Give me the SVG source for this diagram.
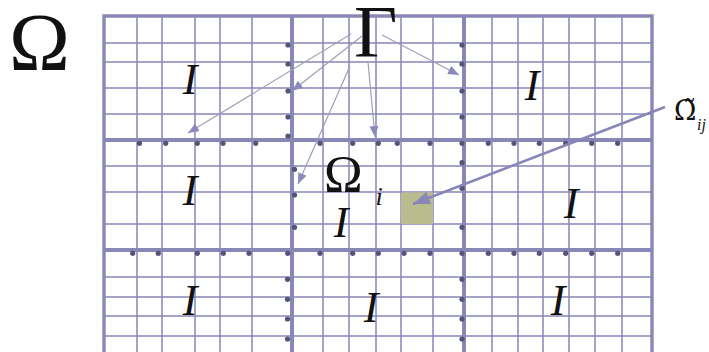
<svg xmlns="http://www.w3.org/2000/svg" width="709" height="352" viewBox="0 0 709 352">
<style>
.thin{stroke:#8886b6;stroke-width:1.5;fill:none}
.thick{stroke:#8987b6;stroke-width:4;fill:none}
.dot{fill:#55557a}
.ar{stroke:#a09eba;stroke-width:1.2;fill:none}
.big{stroke:#8886b8;stroke-width:2.6;fill:none}
.lbl{font-family:"Liberation Serif","Times New Roman",serif;fill:#111}
.it{font-family:"Liberation Serif","Times New Roman",serif;font-style:italic;fill:#111;text-anchor:middle}
</style>
<defs>
<marker id="ah" markerUnits="userSpaceOnUse" markerWidth="12" markerHeight="10" refX="11" refY="4.5" orient="auto">
<path d="M0,0 L11,4.5 L0,9 z" fill="#8c8aba"/>
</marker>
<marker id="ahb" markerUnits="userSpaceOnUse" markerWidth="18" markerHeight="14" refX="17" refY="6.5" orient="auto">
<path d="M0,0 L17,6.5 L0,13 z" fill="#8886b8"/>
</marker>
</defs>
<rect width="709" height="352" fill="#fff"/>
<g id="grid">
<path class="thin" d="M137,16V352M162,16V352M195,16V352M220,16V352M252,16V352M323,16V352M349,16V352M376,16V352M401,16V352M433,16V352M492,16V352M518,16V352M543,16V352M569,16V352M595,16V352M622,16V352"/>
<path class="thin" d="M104,43H652M104,62H652M104,88H652M104,114H652M104,166H652M104,192H652M104,224H652M104,277H652M104,297H652M104,316H652M104,336H652"/>
<rect id="subdomain" x="401" y="192.5" width="32" height="31.5" fill="#bbbb90"/>
<path class="thick" d="M292,16V352M464,16V352M104,140H652M104,250H652"/>
<path class="thick" style="stroke-width:3.4" d="M104,352V16H652V352"/>
</g>
<g id="dots" class="dot">
<circle cx="288" cy="45" r="2.6"/><circle cx="288" cy="64" r="2.6"/><circle cx="288" cy="91" r="2.6"/><circle cx="288" cy="117" r="2.6"/><circle cx="288" cy="136" r="2.6"/>
<circle cx="462" cy="45" r="2.6"/><circle cx="462" cy="64" r="2.6"/><circle cx="462" cy="91" r="2.6"/><circle cx="462" cy="117" r="2.6"/>
<circle cx="139.5" cy="143.3" r="2.6"/><circle cx="165.7" cy="143.3" r="2.6"/><circle cx="197.3" cy="143.3" r="2.6"/><circle cx="223" cy="143.3" r="2.6"/><circle cx="255.7" cy="143.3" r="2.6"/>
<circle cx="320" cy="143.3" r="2.6"/><circle cx="352.7" cy="143.3" r="2.6"/><circle cx="378.3" cy="143.3" r="2.6"/><circle cx="397.3" cy="143.3" r="2.6"/><circle cx="430" cy="143.3" r="2.6"/><circle cx="462" cy="143.3" r="2.6"/>
<circle cx="488.3" cy="143.3" r="2.6"/><circle cx="514" cy="143.3" r="2.6"/><circle cx="539.3" cy="143.3" r="2.6"/><circle cx="565.7" cy="143.3" r="2.6"/><circle cx="591.7" cy="143.3" r="2.6"/><circle cx="617.7" cy="143.3" r="2.6"/>
<circle cx="294.5" cy="169.3" r="2.6"/><circle cx="294.5" cy="195" r="2.6"/><circle cx="294.5" cy="227.3" r="2.6"/>
<circle cx="462" cy="162.7" r="2.6"/><circle cx="462" cy="188.3" r="2.6"/><circle cx="462" cy="227.3" r="2.6"/>
<circle cx="132.7" cy="253.3" r="2.6"/><circle cx="158.3" cy="253.3" r="2.6"/><circle cx="197.3" cy="253.3" r="2.6"/><circle cx="223.3" cy="253.3" r="2.6"/><circle cx="249" cy="253.3" r="2.6"/><circle cx="287.7" cy="253.3" r="2.6"/>
<circle cx="320" cy="253.3" r="2.6"/><circle cx="352.7" cy="253.3" r="2.6"/><circle cx="378.3" cy="253.3" r="2.6"/><circle cx="404" cy="253.3" r="2.6"/><circle cx="430" cy="253.3" r="2.6"/><circle cx="462" cy="253.3" r="2.6"/>
<circle cx="488.3" cy="253.3" r="2.6"/><circle cx="514" cy="253.3" r="2.6"/><circle cx="539.3" cy="253.3" r="2.6"/><circle cx="565.7" cy="253.3" r="2.6"/><circle cx="591.7" cy="253.3" r="2.6"/><circle cx="617.7" cy="253.3" r="2.6"/>
<circle cx="287.5" cy="279.3" r="2.6"/><circle cx="287.5" cy="299.3" r="2.6"/><circle cx="287.5" cy="319" r="2.6"/><circle cx="287.5" cy="339" r="2.6"/>
<circle cx="462" cy="279.3" r="2.6"/><circle cx="462" cy="299.3" r="2.6"/><circle cx="462" cy="319" r="2.6"/><circle cx="462" cy="339" r="2.6"/>
</g>
<g id="connectors">
<line class="ar" x1="351" y1="34" x2="188" y2="133" marker-end="url(#ah)"/>
<line class="ar" x1="362" y1="36" x2="292" y2="91" marker-end="url(#ah)"/>
<line class="ar" x1="350" y1="66" x2="298" y2="184" marker-end="url(#ah)"/>
<line class="ar" x1="368" y1="62" x2="375" y2="137" marker-end="url(#ah)"/>
<line class="ar" x1="382" y1="35" x2="459" y2="75" marker-end="url(#ah)"/>
<line class="big" x1="665" y1="107" x2="413" y2="204" marker-end="url(#ahb)"/>
</g>
<g id="labels">
<text class="lbl" x="9" y="70" font-size="82">Ω</text>
<text class="lbl" x="354" y="57" font-size="75">Γ</text>
<text class="lbl" x="324" y="192" font-size="52">Ω</text>
<text class="lbl" x="379" y="205" font-size="26" font-style="italic" text-anchor="middle">i</text>
<text x="674" y="120" font-size="27" font-family="'DejaVu Serif',serif" fill="#111">Ω̃</text>
<text class="lbl" x="697" y="130" font-size="16" font-style="italic">ij</text>
<text class="it" x="190" y="94" font-size="44">I</text>
<text class="it" x="532" y="100" font-size="44">I</text>
<text class="it" x="190" y="205" font-size="44">I</text>
<text class="it" x="341" y="237" font-size="44">I</text>
<text class="it" x="571" y="218" font-size="44">I</text>
<text class="it" x="190" y="315" font-size="44">I</text>
<text class="it" x="371" y="322" font-size="44">I</text>
<text class="it" x="558" y="315" font-size="44">I</text>
</g>
</svg>
